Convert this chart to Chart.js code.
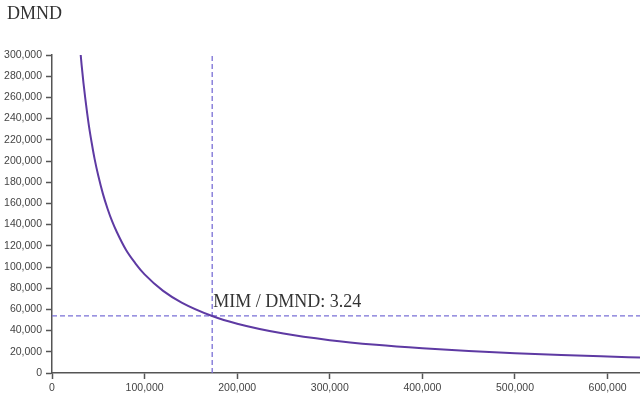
<!DOCTYPE html>
<html>
<head>
<meta charset="utf-8">
<script src="https://cdn.jsdelivr.net/npm/chart.js@4"></script>
<style>
  html, body { margin: 0; padding: 0; background: #fff; }
  #wrap { width: 640px; height: 400px; }
</style>
</head>
<body>
<div id="wrap"><canvas id="c" width="640" height="400"></canvas></div>
<script>
// Reserve amounts (MIM on x, DMND on y)
const mimReserve = [31000, 32000, 34000, 36000, 38000, 40000, 43000, 46000, 50000, 55000, 60000, 65000, 70000, 80000, 90000, 100000, 120000, 140000, 173000, 200000, 250000, 300000, 350000, 400000, 450000, 500000, 550000, 600000, 635000];
const dmndReserve = [300000, 290500, 273500, 258500, 245000, 232500, 216500, 202000, 186000, 169000, 155000, 143000, 133000, 116000, 103500, 93000, 77500, 66500, 53800, 46500, 37200, 31000, 26600, 23300, 20700, 18600, 16900, 15500, 14600];
// Current pool point and its price label
const currentMim = 173000;
const currentDmnd = 53800;
const priceLabel = 'MIM / DMND: 3.24';
const titleText = 'DMND';
// Axis ticks
const xTickValues = [0, 100000, 200000, 300000, 400000, 500000, 600000];
const yTickValues = [0, 20000, 40000, 60000, 80000, 100000, 120000, 140000, 160000, 180000, 200000, 220000, 240000, 260000, 280000, 300000];
const xMax = 635000;
const yMax = 300000;

const curveData = mimReserve.map((x, i) => ({ x: x, y: dmndReserve[i] }));
const vLine = [{ x: currentMim, y: 0 }, { x: currentMim, y: yMax }];
const hLine = [{ x: 0, y: currentDmnd }, { x: xMax, y: currentDmnd }];

const fmt = v => Number(v).toLocaleString('en-US');
const serif = '"Liberation Serif", "Times New Roman", serif';

const textPlugin = {
  id: 'texts',
  afterDraw(chart) {
    const { ctx, scales } = chart;
    const px = scales.x.getPixelForValue(currentMim);
    const py = scales.y.getPixelForValue(currentDmnd);
    ctx.save();
    ctx.font = '18px ' + serif;
    ctx.fillStyle = '#333';
    ctx.textAlign = 'left';
    ctx.textBaseline = 'alphabetic';
    ctx.fillText(titleText, 7, 19);
    ctx.fillText(priceLabel, px + 1, py - 9);
    ctx.restore();
  }
};

const tickFont = { family: '"Liberation Sans", Arial, sans-serif', size: 10.5 };

new Chart(document.getElementById('c'), {
  type: 'line',
  data: {
    datasets: [
      {
        data: curveData,
        borderColor: '#5e3aa3',
        borderWidth: 2,
        pointRadius: 0,
        fill: false,
        cubicInterpolationMode: 'monotone'
      },
      {
        data: vLine,
        borderColor: '#7a70d6',
        borderWidth: 1.3,
        borderDash: [5, 3],
        pointRadius: 0,
        fill: false
      },
      {
        data: hLine,
        borderColor: '#7a70d6',
        borderWidth: 1.3,
        borderDash: [5, 3],
        pointRadius: 0,
        fill: false
      }
    ]
  },
  options: {
    responsive: false,
    animation: false,
    layout: { padding: { left: 0, right: 0, top: 55, bottom: 0 } },
    plugins: {
      legend: { display: false },
      tooltip: { enabled: false },
      title: { display: false }
    },
    scales: {
      x: {
        type: 'linear',
        min: 0,
        max: xMax,
        grid: { drawOnChartArea: false, drawTicks: true, tickLength: 6, tickColor: '#555', tickWidth: 1.5 },
        border: { display: true, color: '#555', width: 1.5 },
        ticks: {
          autoSkip: false,
          maxRotation: 0,
          padding: 3,
          color: '#444',
          font: tickFont,
          callback: v => fmt(v)
        },
        afterBuildTicks(scale) { scale.ticks = xTickValues.map(v => ({ value: v })); },
        afterFit(scale) { scale.height = 27; }
      },
      y: {
        type: 'linear',
        min: 0,
        max: yMax,
        grid: { drawOnChartArea: false, drawTicks: true, tickLength: 6, tickColor: '#555', tickWidth: 1.5 },
        border: { display: true, color: '#555', width: 1.5 },
        ticks: {
          autoSkip: false,
          padding: 4,
          color: '#444',
          font: tickFont,
          callback: v => fmt(v)
        },
        afterBuildTicks(scale) { scale.ticks = yTickValues.map(v => ({ value: v })); },
        afterFit(scale) { scale.width = 52; }
      }
    }
  },
  plugins: [textPlugin]
});
</script>
</body>
</html>
